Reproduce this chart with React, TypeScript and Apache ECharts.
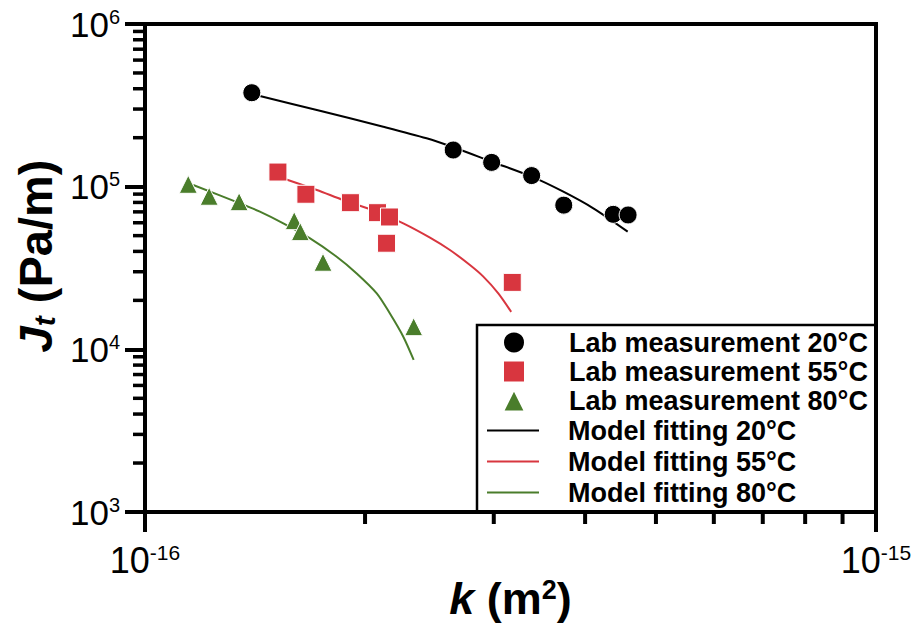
import React, { useEffect, useRef } from "react";
import * as echarts from "echarts";

const FONT = '"Liberation Sans", Arial, Helvetica, sans-serif';

// Lab measurements (k in m², Jt in Pa/m)
const lab20K = [1.40e-16, 2.64e-16, 2.98e-16, 3.38e-16, 3.74e-16, 4.37e-16, 4.58e-16];
const lab20J = [3.78e5, 1.68e5, 1.41e5, 1.17e5, 7.7e4, 6.76e4, 6.7e4];
const lab55K = [1.52e-16, 1.66e-16, 1.91e-16, 2.08e-16, 2.16e-16, 2.14e-16, 3.18e-16];
const lab55J = [1.23e5, 8.98e4, 7.97e4, 6.92e4, 6.51e4, 4.49e4, 2.58e4];
const lab80K = [1.146e-16, 1.224e-16, 1.345e-16, 1.60e-16, 1.631e-16, 1.752e-16, 2.331e-16];
const lab80J = [1.034e5, 8.73e4, 8.08e4, 6.18e4, 5.29e4, 3.43e4, 1.378e4];

// Model fitting curves
const fit20K = [1.436e-16, 1.718e-16, 2.118e-16, 2.428e-16, 2.641e-16, 2.981e-16, 3.381e-16, 3.735e-16, 4.105e-16, 4.574e-16];
const fit20J = [3.61e5, 2.96e5, 2.337e5, 1.983e5, 1.746e5, 1.424e5, 1.152e5, 9.31e4, 7.36e4, 5.29e4];
const fit55K = [1.554e-16, 1.718e-16, 1.867e-16, 2.075e-16, 2.256e-16, 2.454e-16, 2.613e-16, 2.783e-16, 2.903e-16, 3.043e-16, 3.169e-16];
const fit55J = [1.115e5, 9.54e4, 8.28e4, 7.02e4, 5.95e4, 4.86e4, 4.08e4, 3.30e4, 2.80e4, 2.21e4, 1.70e4];
const fit80K = [1.164e-16, 1.349e-16, 1.436e-16, 1.546e-16, 1.682e-16, 1.829e-16, 1.948e-16, 2.075e-16, 2.163e-16, 2.256e-16, 2.331e-16];
const fit80J = [1.024e5, 7.9e4, 7.02e4, 5.95e4, 4.81e4, 3.71e4, 2.93e4, 2.21e4, 1.66e4, 1.196e4, 8.6e3];

// Axis ranges and minor tick values
const X_MIN = 1e-16;
const X_MAX = 1e-15;
const Y_MIN = 1e3;
const Y_MAX = 1e6;
const xMinorTicks = [2e-16, 3e-16, 4e-16, 5e-16, 6e-16, 7e-16, 8e-16, 9e-16];
const yMinorTicks = [2e3, 3e3, 4e3, 5e3, 6e3, 7e3, 8e3, 9e3, 2e4, 3e4, 4e4, 5e4, 6e4, 7e4, 8e4, 9e4, 2e5, 3e5, 4e5, 5e5, 6e5, 7e5, 8e5, 9e5];

const labNames = ["Lab measurement 20°C", "Lab measurement 55°C", "Lab measurement 80°C"];
const fitNames = ["Model fitting 20°C", "Model fitting 55°C", "Model fitting 80°C"];

const BLACK = "#000000";
const RED = "#d8363f";
const GREEN = "#4a7d2b";

const zip = (a: number[], b: number[]) => a.map((v, i) => [v, b[i]]);

export default function App() {
  const ref = useRef<HTMLDivElement>(null);
  useEffect(() => {
    if (!ref.current) return;
    const chart = echarts.init(ref.current, null, { renderer: "svg" });
    const supFormatter = (v: number) => `{b|10}{s|${Math.round(Math.log10(v))}}`;
    const scatter = (name: string, data: number[][], symbol: string, color: string) => ({
      name,
      type: "scatter",
      data,
      symbol,
      symbolSize: 18,
      itemStyle: { color, borderColor: "#ffffff", borderWidth: 1, opacity: 1 },
      z: 3,
    });
    const line = (name: string, data: number[][], color: string) => ({
      name,
      type: "line",
      data,
      smooth: 0.3,
      symbol: "none",
      showSymbol: false,
      lineStyle: { color, width: 2 },
      itemStyle: { color },
      z: 2,
    });
    const legendText = (pad: number) => ({
      fontFamily: FONT,
      fontSize: 27,
      fontWeight: "bold",
      color: "#000",
      padding: [0, 0, 0, pad],
    });
    const option: any = {
      animation: false,
      backgroundColor: "#ffffff",
      grid: {
        left: 145,
        right: 42,
        top: 24,
        bottom: 113,
        show: true,
        borderColor: "#000",
        borderWidth: 4,
        backgroundColor: "transparent",
        containLabel: false,
        outerBoundsMode: "none",
      },
      xAxis: {
        type: "log",
        logBase: 10,
        min: X_MIN,
        max: X_MAX,
        name: "{k|k}{n| (m}{s|2}{n|)}",
        nameLocation: "middle",
        nameGap: 64,
        nameMoveOverlap: false,
        nameTextStyle: {
          rich: {
            k: { fontFamily: FONT, fontSize: 45, fontWeight: "bold", fontStyle: "italic", color: "#000" },
            n: { fontFamily: FONT, fontSize: 45, fontWeight: "bold", color: "#000" },
            s: { fontFamily: FONT, fontSize: 27, fontWeight: "bold", color: "#000", verticalAlign: "top" },
          },
        },
        axisLine: { show: true, lineStyle: { color: "#000", width: 4 } },
        axisTick: { show: true, length: 20, lineStyle: { color: "#000", width: 4 } },
        splitLine: { show: false },
        minorTick: { show: false },
        axisLabel: {
          margin: 30,
          formatter: supFormatter,
          rich: {
            b: { fontFamily: FONT, fontSize: 36, color: "#000" },
            s: { fontFamily: FONT, fontSize: 21, color: "#000", verticalAlign: "top" },
          },
        },
      },
      yAxis: {
        type: "log",
        logBase: 10,
        min: Y_MIN,
        max: Y_MAX,
        name: "{j|J}{t|t}{n| (Pa/m)}",
        nameLocation: "middle",
        nameRotate: 90,
        nameGap: 86,
        nameMoveOverlap: false,
        nameTextStyle: {
          padding: [0, 0, 0, 24],
          rich: {
            j: { fontFamily: FONT, fontSize: 47, fontWeight: "bold", fontStyle: "italic", color: "#000" },
            t: { fontFamily: FONT, fontSize: 30, fontWeight: "bold", fontStyle: "italic", color: "#000", verticalAlign: "bottom" },
            n: { fontFamily: FONT, fontSize: 47, fontWeight: "bold", color: "#000" },
          },
        },
        axisLine: { show: true, lineStyle: { color: "#000", width: 4 } },
        axisTick: { show: true, length: 20, lineStyle: { color: "#000", width: 4 } },
        splitLine: { show: false },
        axisLabel: {
          margin: 25,
          formatter: supFormatter,
          rich: {
            b: { fontFamily: FONT, fontSize: 35, color: "#000" },
            s: { fontFamily: FONT, fontSize: 20, color: "#000", verticalAlign: "top" },
          },
        },
      },
      legend: [
        {
          data: labNames,
          orient: "vertical",
          left: 502,
          top: 329,
          itemWidth: 22,
          itemHeight: 22,
          itemGap: 2,
          padding: 0,
          selectedMode: false,
          textStyle: legendText(39),
        },
        {
          data: fitNames,
          orient: "vertical",
          left: 487,
          top: 417,
          icon: "rect",
          itemWidth: 52,
          itemHeight: 2,
          itemGap: 4,
          padding: 0,
          selectedMode: false,
          textStyle: legendText(24),
        },
      ],
      graphic: [
        {
          type: "rect",
          shape: { x: 477, y: 325, width: 399, height: 187 },
          style: { fill: "transparent", stroke: "#000", lineWidth: 2.5 },
          z: 5,
          silent: true,
        },
      ],
      series: [
        scatter(labNames[0], zip(lab20K, lab20J), "circle", BLACK),
        scatter(labNames[1], zip(lab55K, lab55J), "rect", RED),
        scatter(labNames[2], zip(lab80K, lab80J), "triangle", GREEN),
        line(fitNames[0], zip(fit20K, fit20J), BLACK),
        line(fitNames[1], zip(fit55K, fit55J), RED),
        line(fitNames[2], zip(fit80K, fit80J), GREEN),
        {
          type: "custom",
          name: "xMinor",
          silent: true,
          clip: false,
          data: xMinorTicks.map((v) => [v, Y_MIN]),
          renderItem: (params: any, api: any) => {
            const p = api.coord([api.value(0), api.value(1)]);
            return {
              type: "line",
              shape: { x1: p[0], y1: p[1], x2: p[0], y2: p[1] + 12 },
              style: { stroke: "#000", lineWidth: 4 },
            };
          },
          z: 4,
        },
        {
          type: "custom",
          name: "yMinor",
          silent: true,
          clip: false,
          data: yMinorTicks.map((v) => [X_MIN, v]),
          renderItem: (params: any, api: any) => {
            const p = api.coord([api.value(0), api.value(1)]);
            return {
              type: "line",
              shape: { x1: p[0] - 12, y1: p[1], x2: p[0], y2: p[1] },
              style: { stroke: "#000", lineWidth: 3.5 },
            };
          },
          z: 4,
        },
      ],
    };
    chart.setOption(option);
    return () => chart.dispose();
  }, []);
  return (
    <div
      ref={ref}
      style={{ position: "fixed", left: 0, top: 0, width: 918, height: 625, background: "#fff" }}
    />
  );
}
